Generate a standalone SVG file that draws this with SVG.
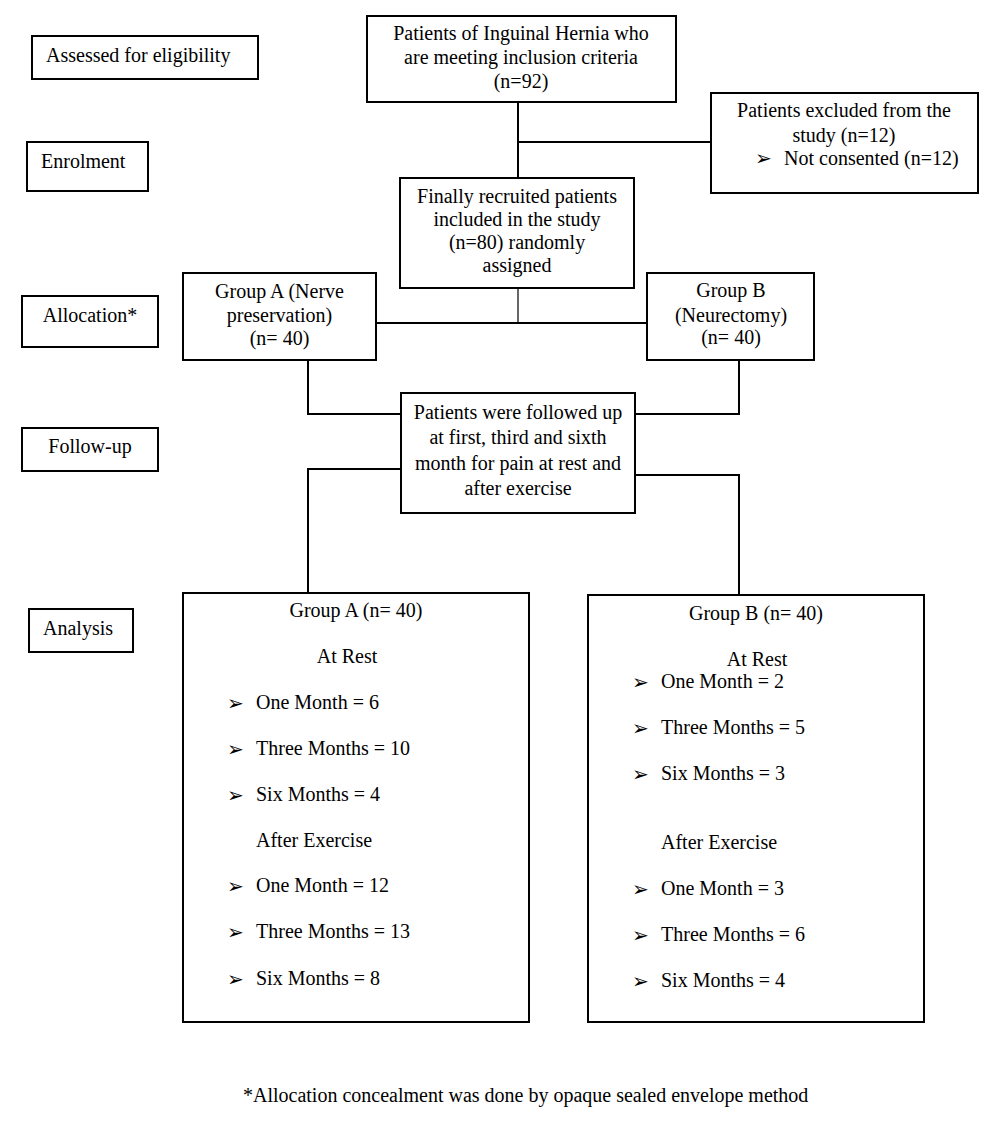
<svg xmlns="http://www.w3.org/2000/svg" width="986" height="1123" viewBox="0 0 986 1123">
<style>
text{font-family:"Liberation Serif","Times New Roman",serif;font-size:20px;fill:#000}
.c{text-anchor:middle}
.b{font-family:"DejaVu Sans",sans-serif;font-size:20px}
.box{fill:#fff;stroke:#000;stroke-width:2}
.ln{fill:none;stroke:#000;stroke-width:2}
.thin{fill:none;stroke:#000;stroke-width:1.2}
</style>
<rect width="986" height="1123" fill="#fff"/>
<g id="connectors">
<line class="ln" x1="518" y1="102" x2="518" y2="178"/>
<line class="ln" x1="518" y1="142" x2="711" y2="142"/>
<line class="thin" x1="518" y1="288" x2="518" y2="323"/>
<line class="ln" x1="376" y1="323" x2="647" y2="323"/>
<polyline class="ln" points="308,360 308,414 401,414"/>
<polyline class="ln" points="739,360 739,414 635,414"/>
<polyline class="ln" points="401,469 308,469 308,593"/>
<polyline class="ln" points="635,475 739,475 739,595"/>
</g>
<g id="label-assessed"><rect class="box" x="32" y="36" width="226" height="43"/><text x="46" y="62">Assessed for eligibility</text></g>
<g id="label-enrolment"><rect class="box" x="27" y="142" width="121" height="49"/><text x="41" y="168">Enrolment</text></g>
<g id="label-allocation"><rect class="box" x="22" y="296" width="136" height="51"/><text class="c" x="90" y="322">Allocation*</text></g>
<g id="label-followup"><rect class="box" x="22" y="428" width="136" height="43"/><text class="c" x="90" y="453">Follow-up</text></g>
<g id="label-analysis"><rect class="box" x="29" y="609" width="104" height="43"/><text x="43" y="635">Analysis</text></g>
<g id="patients">
<rect class="box" x="367" y="16" width="309" height="86"/>
<text class="c" x="521" y="40">Patients of Inguinal Hernia who</text>
<text class="c" x="521" y="64">are meeting inclusion criteria</text>
<text class="c" x="521" y="88">(n=92)</text>
</g>
<g id="excluded">
<rect class="box" x="711" y="93" width="267" height="100"/>
<text class="c" x="844" y="117">Patients excluded from the</text>
<text class="c" x="844" y="142">study (n=12)</text>
<text class="b" x="755" y="165">➢</text>
<text x="784" y="165">Not consented (n=12)</text>
</g>
<g id="recruited">
<rect class="box" x="400" y="178" width="234" height="110"/>
<text class="c" x="517" y="203">Finally recruited patients</text>
<text class="c" x="517" y="226">included in the study</text>
<text class="c" x="517" y="249">(n=80) randomly</text>
<text class="c" x="517" y="272">assigned</text>
</g>
<g id="groupA">
<rect class="box" x="183" y="273" width="193" height="87"/>
<text class="c" x="279.5" y="298">Group A (Nerve</text>
<text class="c" x="279.5" y="322">preservation)</text>
<text class="c" x="279.5" y="345">(n= 40)</text>
</g>
<g id="groupB">
<rect class="box" x="647" y="273" width="167" height="87"/>
<text class="c" x="731" y="297">Group B</text>
<text class="c" x="731" y="322">(Neurectomy)</text>
<text class="c" x="731" y="344">(n= 40)</text>
</g>
<g id="followup">
<rect class="box" x="401" y="393" width="234" height="120"/>
<text class="c" x="518" y="419">Patients were followed up</text>
<text class="c" x="518" y="444">at first, third and sixth</text>
<text class="c" x="518" y="470">month for pain at rest and</text>
<text class="c" x="518" y="495">after exercise</text>
</g>
<g id="analysisA">
<rect class="box" x="183" y="593" width="346" height="429"/>
<text class="c" x="356" y="617">Group A (n= 40)</text>
<text class="c" x="347" y="663">At Rest</text>
<text class="b" x="227" y="710">➢</text><text x="256" y="709">One Month = 6</text>
<text class="b" x="227" y="756">➢</text><text x="256" y="755">Three Months = 10</text>
<text class="b" x="227" y="802">➢</text><text x="256" y="801">Six Months = 4</text>
<text x="256" y="847">After Exercise</text>
<text class="b" x="227" y="893">➢</text><text x="256" y="892">One Month = 12</text>
<text class="b" x="227" y="939">➢</text><text x="256" y="938">Three Months = 13</text>
<text class="b" x="227" y="986">➢</text><text x="256" y="985">Six Months = 8</text>
</g>
<g id="analysisB">
<rect class="box" x="588" y="595" width="336" height="427"/>
<text class="c" x="756" y="620">Group B (n= 40)</text>
<text class="c" x="757" y="666">At Rest</text>
<text class="b" x="632" y="689">➢</text><text x="661" y="688">One Month = 2</text>
<text class="b" x="632" y="735">➢</text><text x="661" y="734">Three Months = 5</text>
<text class="b" x="632" y="781">➢</text><text x="661" y="780">Six Months = 3</text>
<text x="661" y="849">After Exercise</text>
<text class="b" x="632" y="896">➢</text><text x="661" y="895">One Month = 3</text>
<text class="b" x="632" y="942">➢</text><text x="661" y="941">Three Months = 6</text>
<text class="b" x="632" y="988">➢</text><text x="661" y="987">Six Months = 4</text>
</g>
<g id="footnote"><text x="243" y="1102">*Allocation concealment was done by opaque sealed envelope method</text></g>
</svg>
